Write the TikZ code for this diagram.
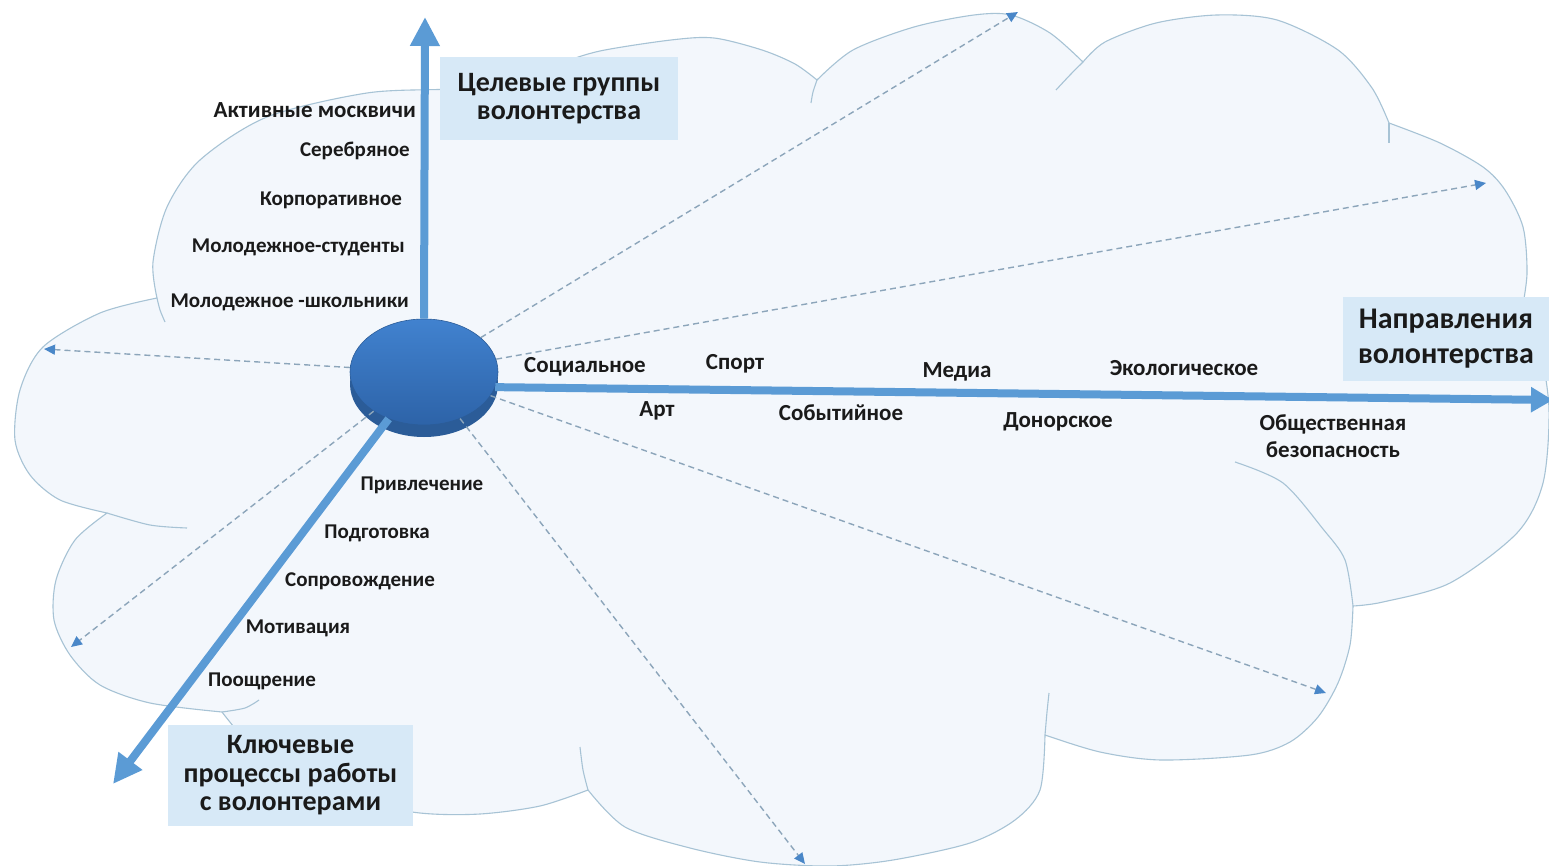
\documentclass[tikz,border=0pt]{standalone}
\usepackage{fontspec}
\setmainfont{Carlito}
\usetikzlibrary{arrows.meta,shapes.geometric}
\definecolor{cloudfill}{HTML}{F3F7FC}
\definecolor{cloudline}{HTML}{A7C3D5}
\definecolor{axisblue}{HTML}{5B9BD5}
\definecolor{dashline}{HTML}{8CA5BA}
\definecolor{dashtip}{HTML}{4A87C8}
\definecolor{boxfill}{HTML}{D7E9F7}
\definecolor{hubtop}{HTML}{4182CF}
\definecolor{hubbot}{HTML}{2D63A8}
\definecolor{hubrim}{HTML}{2B5C98}
\definecolor{txt}{HTML}{1A1A1A}
\begin{document}
\begin{tikzpicture}[x=1pt,y=-1pt,
  cloud/.style={fill=cloudfill, draw=cloudline, line width=1.1pt, line join=round},
  stub/.style={draw=cloudline, line width=1.1pt},
  axis/.style={draw=axisblue, line width=8pt, -{Triangle[width=28pt,length=29pt]}},
  ray/.style={draw=dashline, line width=1.4pt, dash pattern=on 6pt off 4pt, -{Triangle[width=10pt,length=11pt,color=dashtip]}},
  hdr/.style={fill=boxfill, font=\fontsize{28}{28.5}\selectfont\bfseries, text=txt, align=center, inner sep=0pt},
  lbl/.style={font=\fontsize{23}{27}\selectfont\bfseries, text=txt, inner sep=0pt, text height=16pt, text depth=5pt},
  sml/.style={lbl, font=\fontsize{21}{25}\selectfont\bfseries, text height=15pt, text depth=4.5pt},
]
\useasboundingbox (0,0) rectangle (1549,866);
\fill[white] (0,0) rectangle (1549,866);
% cloud
\path[cloud]
 plot[smooth] coordinates {(157,298) (153,262) (167,207) (200,160) (267,117) (367,93) (450,89) (525,83)}
 -- plot[smooth] coordinates {(525,83) (560,64) (600,51) (671,40) (714,38) (762,50) (795,64) (817,80)}
 -- plot[smooth] coordinates {(817,80) (853,50) (914,27) (974,15) (1011,15) (1050,33) (1083,62)}
 -- plot[smooth] coordinates {(1083,62) (1105,42) (1156,23) (1217,15) (1277,20) (1338,50) (1372,88) (1389,123)}
 -- plot[smooth] coordinates {(1389,123) (1440,143) (1483,167) (1505,190) (1523,227) (1527,273) (1522,310)}
 -- plot[smooth] coordinates {(1522,310) (1540,350) (1549,410) (1543,483) (1517,533) (1450,583) (1383,602) (1353,606)}
 -- plot[smooth] coordinates {(1353,606) (1350,645) (1338,683) (1318,717) (1290,742) (1250,755) (1161,760) (1100,752) (1045,735)}
 -- plot[smooth] coordinates {(1045,735) (1040,790) (1015,820) (970,843) (893,860) (830,866) (760,862) (690,848) (625,827) (588,790)}
 -- plot[smooth] coordinates {(588,790) (540,806) (480,814) (420,813) (350,800) (290,775) (250,745) (222,712)}
 -- plot[smooth] coordinates {(222,712) (150,703) (100,685) (70,655) (54,620) (56,580) (75,540) (107,513)}
 -- plot[smooth] coordinates {(107,513) (60,500) (30,475) (15,440) (20,390) (43,347) (100,313) (157,298)}
 -- cycle;
% inner arcs of the cloud
\draw[stub] plot[smooth] coordinates {(157,298) (160,310) (165,322)};
\draw[stub] plot[smooth] coordinates {(107,513) (150,525) (187,528)};
\draw[stub] plot[smooth] coordinates {(222,712) (245,708) (259,700)};
\draw[stub] plot[smooth] coordinates {(588,790) (583,770) (580,747)};
\draw[stub] plot[smooth] coordinates {(1045,735) (1047,712) (1049,693)};
\draw[stub] plot[smooth] coordinates {(1353,606) (1345,560) (1323,529) (1283,483) (1235,462)};
\draw[stub] (1389,123) -- (1389,143);
\draw[stub] plot[smooth] coordinates {(1083,62) (1070,75) (1056,90)};
\draw[stub] plot[smooth] coordinates {(817,80) (813,92) (811,103)};
% hub
\fill[hubrim] (424,384) ellipse [x radius=74pt, y radius=53pt];
\node[ellipse, minimum width=148pt, minimum height=106pt, inner sep=0pt,
      top color=hubtop, bottom color=hubbot, draw=hubrim, line width=0.6pt] (hub) at (424,372) {};
% end points
\coordinate (t1) at (1018,12);
\coordinate (t2) at (1486,183);
\coordinate (t3) at (44,349);
\coordinate (t4) at (71,647);
\coordinate (t5) at (805,864);
\coordinate (t6) at (1326,693);
\coordinate (aUp) at (425,17);
\coordinate (aRight) at (1553,400);
\coordinate (aDown) at (113,784);
% dashed rays
\foreach \t in {t1,t2,t3,t4,t5,t6} \draw[ray] (hub) -- (\t);
% main axes
\draw[axis] (hub.north) -- (aUp);
\draw[axis, -{Triangle[width=24pt,length=22pt]}] (hub.-12) -- (aRight);
\draw[axis] (hub) -- (aDown);
% header boxes
\node[hdr, minimum width=238pt, minimum height=83pt] (hTop) at (559,98.5) {Целевые группы\\волонтерства};
\node[hdr, minimum width=206pt, minimum height=84pt, font=\fontsize{30}{35}\selectfont\bfseries] (hRight) at (1446,339) {Направления\\волонтерства};
\node[hdr, minimum width=245pt, minimum height=101pt] (hLeft) at (290.5,775.5) {Ключевые\\процессы работы\\с волонтерами};
% target groups
\node[lbl, anchor=east] (g1) at (416,112) {Активные москвичи};
\node[sml, anchor=east] (g2) at (410,151) {Серебряное};
\node[sml, anchor=east] (g3) at (402,200) {Корпоративное};
\node[sml, anchor=east] (g4) at (405,247) {Молодежное-студенты};
\node[sml, anchor=east] (g5) at (409,302) {Молодежное -школьники};
% directions
\node[lbl] (d1) at (585,367) {Социальное};
\node[lbl] (d2) at (735,364) {Спорт};
\node[lbl] (d3) at (957,372) {Медиа};
\node[lbl] (d4) at (1184,370) {Экологическое};
\node[lbl] (d5) at (657,411) {Арт};
\node[lbl] (d6) at (841,415) {Событийное};
\node[lbl] (d7) at (1058,422) {Донорское};
\node[lbl, align=center, text height=, text depth=] (d8) at (1333,436) {Общественная\\безопасность};
% processes
\node[sml] (p1) at (422,485) {Привлечение};
\node[sml] (p2) at (377,533) {Подготовка};
\node[sml] (p3) at (360,581) {Сопровождение};
\node[sml] (p4) at (298,628) {Мотивация};
\node[sml] (p5) at (262,681) {Поощрение};
\end{tikzpicture}
\end{document}
